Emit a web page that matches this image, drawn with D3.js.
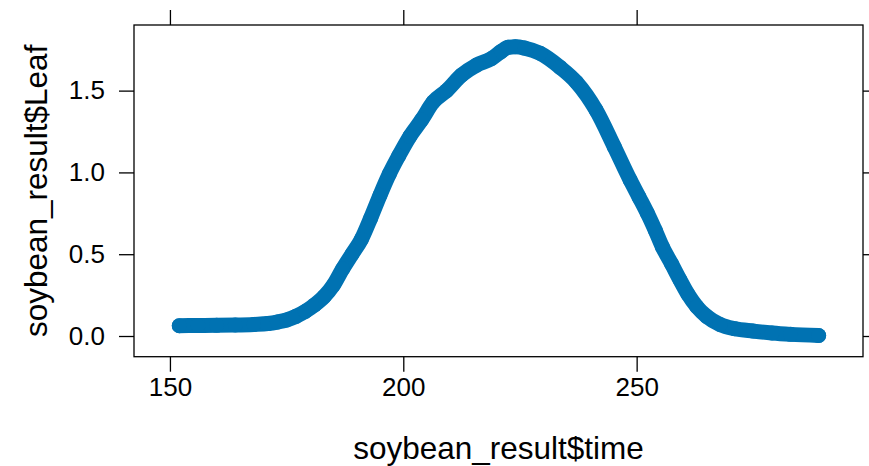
<!DOCTYPE html>
<html>
<head>
<meta charset="utf-8">
<script src="https://cdn.jsdelivr.net/npm/d3@7"></script>
<style>
  body { margin: 0; background: #fff; }
  text { font-family: "Liberation Sans", Arial, sans-serif; fill: #000; }
</style>
</head>
<body>
<div id="chart"></div>
<script>
// values
const time = [152, 156, 160, 164, 168, 171, 173, 175, 177, 179, 181, 183, 185, 187, 189,
  191, 193, 195, 197, 199, 201.4, 203.9, 206.4, 209.3, 212.5, 215.7, 218.9, 221, 222.5,
  224, 226, 229.3, 233.6, 237.1, 241.3, 245.2, 248.6, 250.5, 252.3, 254, 255.5, 257.5,
  259.3, 261, 262.9, 265, 267.9, 271, 275, 279, 283, 289];
const leaf = [0.063, 0.064, 0.065, 0.067, 0.071, 0.076, 0.085, 0.098, 0.12, 0.15, 0.19,
  0.24, 0.31, 0.41, 0.50, 0.59, 0.72, 0.86, 0.99, 1.10, 1.22, 1.32, 1.43, 1.50, 1.595,
  1.656, 1.696, 1.74, 1.765, 1.768, 1.76, 1.728, 1.642, 1.551, 1.381, 1.157, 0.954, 0.85,
  0.75, 0.645, 0.546, 0.44, 0.342, 0.255, 0.179, 0.12, 0.07, 0.045, 0.03, 0.018, 0.01, 0.003];
const xTicks = [150, 200, 250];
const yTicks = [0, 0.5, 1, 1.5];

const width = 869;
const height = 466;
const panel = { left: 134, right: 863, top: 25, bottom: 356.7 };

const svg = d3.select("#chart")
  .append("svg")
  .attr("width", width)
  .attr("height", height);

const x = d3.scaleLinear().domain([142.3, 298.5]).range([panel.left, panel.right]);
const y = d3.scaleLinear().domain([-0.1265, 1.9011]).range([panel.bottom, panel.top]);

const points = time.map((t, i) => ({ t: t, v: leaf[i] }));

// dense points in the original read as one thick band
const line = d3.line()
  .x(d => x(d.t))
  .y(d => y(d.v))
  .curve(d3.curveMonotoneX);

svg.append("path")
  .datum(points)
  .attr("d", line)
  .attr("fill", "none")
  .attr("stroke", "#0072B2")
  .attr("stroke-width", 15)
  .attr("stroke-linecap", "round")
  .attr("stroke-linejoin", "round");

svg.selectAll("circle")
  .data(points)
  .enter()
  .append("circle")
  .attr("cx", d => x(d.t))
  .attr("cy", d => y(d.v))
  .attr("r", 7.5)
  .style("fill", "#0072B2");

// axes, ticks on all four sides, labels left and bottom
const tickLen = 15;
const fmtY = d3.format(".1f");

svg.append("g")
  .attr("transform", `translate(0,${panel.bottom})`)
  .call(d3.axisBottom(x).tickValues(xTicks).tickSizeInner(tickLen).tickSizeOuter(0).tickPadding(6))
  .call(g => g.select(".domain").remove())
  .call(g => g.selectAll("text").attr("font-size", 26).attr("font-family", "Liberation Sans, Arial, sans-serif"));

svg.append("g")
  .attr("transform", `translate(0,${panel.top})`)
  .call(d3.axisTop(x).tickValues(xTicks).tickSizeInner(tickLen).tickSizeOuter(0).tickFormat(""))
  .call(g => g.select(".domain").remove());

svg.append("g")
  .attr("transform", `translate(${panel.left},0)`)
  .call(d3.axisLeft(y).tickValues(yTicks).tickFormat(fmtY).tickSizeInner(tickLen).tickSizeOuter(0).tickPadding(14))
  .call(g => g.select(".domain").remove())
  .call(g => g.selectAll("text").attr("font-size", 26).attr("font-family", "Liberation Sans, Arial, sans-serif"));

svg.append("g")
  .attr("transform", `translate(${panel.right},0)`)
  .call(d3.axisRight(y).tickValues(yTicks).tickSizeInner(tickLen).tickSizeOuter(0).tickFormat(""))
  .call(g => g.select(".domain").remove());

svg.selectAll(".tick line").attr("stroke", "#000").attr("stroke-width", 1.3);

svg.append("rect")
  .attr("x", panel.left)
  .attr("y", panel.top)
  .attr("width", panel.right - panel.left)
  .attr("height", panel.bottom - panel.top)
  .attr("fill", "none")
  .attr("stroke", "#000")
  .attr("stroke-width", 1.3);

svg.append("text")
  .attr("x", (panel.left + panel.right) / 2)
  .attr("y", 459)
  .attr("text-anchor", "middle")
  .attr("font-size", 31.5)
  .text("soybean_result$time");

svg.append("text")
  .attr("transform", `translate(47,${(panel.top + panel.bottom) / 2}) rotate(-90)`)
  .attr("text-anchor", "middle")
  .attr("font-size", 31.5)
  .text("soybean_result$Leaf");
</script>
</body>
</html>
